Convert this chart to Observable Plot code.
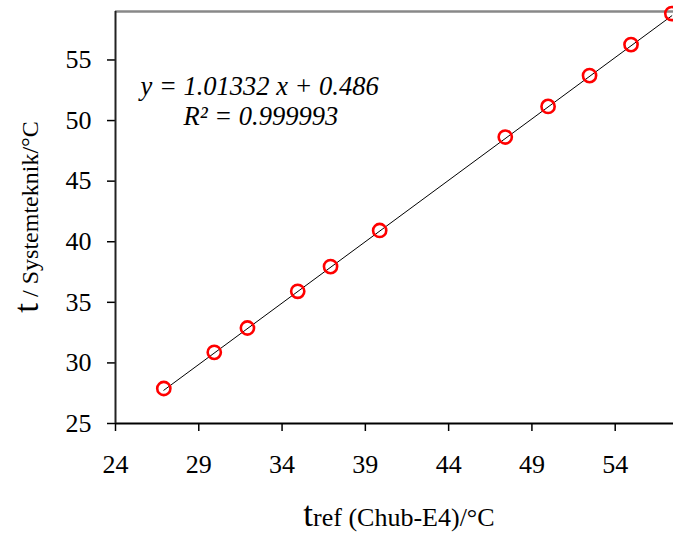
<!DOCTYPE html>
<html>
<head>
<meta charset="utf-8">
<script src="https://cdn.jsdelivr.net/npm/d3@7"></script>
<script src="https://cdn.jsdelivr.net/npm/@observablehq/plot@0.6"></script>
<style>
  html, body { margin: 0; padding: 0; background: #fff; }
  #chart svg { display: block; }
</style>
</head>
<body>
<div id="chart"></div>
<script>
// Reference temperature (x) and Systemteknik reading (y), °C
const tRef = [26.90, 29.93, 31.92, 34.94, 36.91, 39.86, 47.40, 49.97, 52.46, 54.95, 57.40];
const tSys = [27.89, 30.87, 32.88, 35.91, 37.95, 40.93, 48.64, 51.17, 53.71, 56.27, 58.83];
const xTicks = [24, 29, 34, 39, 44, 49, 54];
const yTicks = [25, 30, 35, 40, 45, 50, 55];
const eqLines = ["y = 1.01332 x + 0.486", "R² = 0.999993"];
const slope = 1.01332, intercept = 0.486;

const data = tRef.map((x, i) => ({x, y: tSys[i]}));
const fitLine = [tRef[0], tRef[tRef.length - 1]].map(x => ({x, y: slope * x + intercept}));

const font = "Liberation Serif";

const chart = Plot.plot({
  width: 673,
  height: 539,
  marginLeft: 115,
  marginRight: 0,
  marginTop: 11,
  marginBottom: 116,
  style: {fontFamily: font, fontSize: "26px", color: "#000", background: "#fff"},
  x: {domain: [24, 57.5], label: null},
  y: {domain: [25, 59], label: null},
  marks: [
    Plot.ruleY([59], {stroke: "#888", strokeWidth: 2.5}),
    Plot.line(fitLine, {x: "x", y: "y", stroke: "#000", strokeWidth: 1}),
    Plot.dot(data, {x: "x", y: "y", r: 6.6, stroke: "#ff0000", strokeWidth: 2.6, fill: "none"}),
    Plot.axisX({ticks: xTicks, tickSize: 8, tickPadding: 23, fontSize: 26, fontFamily: font, stroke: "#000", strokeWidth: 1.5, label: null}),
    Plot.axisY({ticks: yTicks, tickSize: 8, tickPadding: 16, fontSize: 26, fontFamily: font, stroke: "#000", strokeWidth: 1.5, label: null}),
    Plot.ruleY([25], {stroke: "#000", strokeWidth: 2}),
    Plot.ruleX([24], {stroke: "#222", strokeWidth: 2}),
    Plot.text([eqLines[0]], {frameAnchor: "top-left", dx: 25, dy: 65, fontSize: 26.5, fontFamily: font, fontStyle: "italic", textAnchor: "start"}),
    Plot.text([eqLines[1]], {frameAnchor: "top-left", dx: 68, dy: 95, fontSize: 26.5, fontFamily: font, fontStyle: "italic", textAnchor: "start"})
  ]
});

const svg = d3.select(chart);

// x-axis title
const xt = svg.append("text")
  .attr("x", 399).attr("y", 526)
  .attr("text-anchor", "middle")
  .attr("font-family", font)
  .attr("fill", "#000");
xt.append("tspan").attr("font-size", 35).text("t");
xt.append("tspan").attr("font-size", 26).text("ref (Chub-E4)/°C");
// y-axis title
const yt = svg.append("text")
  .attr("transform", "translate(38,217) rotate(-90)")
  .attr("text-anchor", "middle")
  .attr("font-family", font)
  .attr("fill", "#000");
yt.append("tspan").attr("font-size", 35).text("t");
yt.append("tspan").attr("font-size", 24).text(" / Systemteknik/°C");

document.getElementById("chart").appendChild(chart);
</script>
</body>
</html>
